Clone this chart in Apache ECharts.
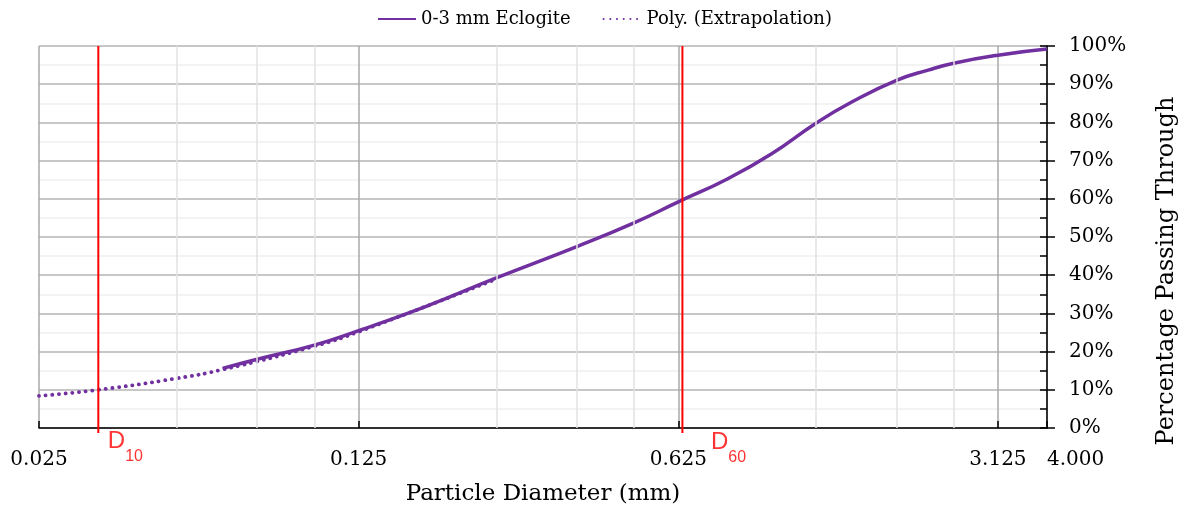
<!DOCTYPE html>
<html>
<head>
<meta charset="utf-8">
<script src="https://cdn.jsdelivr.net/npm/echarts@6/dist/echarts.min.js"></script>
<style>
  html, body { margin: 0; padding: 0; background: #fff; }
  #main { width: 1185px; height: 515px; }
</style>
</head>
<body>
<div id="main"></div>
<script>
// grading curve, sieve size (mm) vs % passing
var sizes = [0.063, 0.075, 0.1, 0.125, 0.175, 0.25, 0.375, 0.5, 0.625, 0.8, 1.0, 1.25, 1.5, 1.875, 2.2, 2.5, 3.125, 4.0];
var passing = [15.6, 18.0, 21.7, 25.5, 31.8, 39.3, 47.5, 53.7, 59.2, 65.2, 71.8, 79.8, 85.4, 91.0, 93.7, 95.5, 97.6, 99.2];

// polynomial trend extended down to 0.025 mm
var polySizes = [0.025, 0.0337, 0.05, 0.063, 0.1, 0.125, 0.25];
var polyPassing = [8.4, 10.0, 13.0, 15.3, 21.4, 25.2, 39.0];

// D10 / D60 markers
var dNames = ['10', '60'];
var dValues = [0.0337, 0.638];

// minor vertical grid lines (2x, 3x, 4x each major step)
var xMinor = [0.05, 0.075, 0.1, 0.25, 0.375, 0.5, 1.25, 1.875, 2.5];
var xMajor = [0.025, 0.125, 0.625, 3.125, 4.0];

var serif = 'DejaVu Serif';
var purple = '#7030A0';

function pairs(xs, y0, y1) {
  return xs.map(function (v) { return [{ coord: [v, y0] }, { coord: [v, y1] }]; });
}

var chart = echarts.init(document.getElementById('main'), null, { renderer: 'canvas' });

var option = {
  backgroundColor: '#fff',
  animation: false,
  legend: {
    data: ['0-3 mm Eclogite', 'Poly. (Extrapolation)'],
    left: 372,
    top: 5,
    itemWidth: 38,
    itemHeight: 14,
    itemGap: 32,
    itemStyle: { opacity: 0 },
    textStyle: { fontFamily: serif, fontSize: 18, color: '#000' }
  },
  grid: { left: 39, right: 138, top: 46, bottom: 87, outerBoundsMode: 'none' },
  xAxis: [{
    type: 'log',
    logBase: 5,
    min: 0.025,
    max: 4,
    interval: 1.000000001,
    name: 'Particle Diameter (mm)',
    nameLocation: 'middle',
    nameGap: 55,
    nameTextStyle: { fontFamily: serif, fontSize: 23, color: '#000' },
    axisLine: { show: true, lineStyle: { color: '#000', width: 1.5 } },
    axisTick: { show: true, inside: true, length: 7, lineStyle: { color: '#000', width: 1.5 } },
    axisLabel: {
      fontFamily: serif, fontSize: 20, color: '#000', margin: 22,
      showMinLabel: true, showMaxLabel: true, alignMaxLabel: 'left',
      formatter: function (v) { return v.toFixed(3); }
    },
    splitLine: { show: true, lineStyle: { color: '#a8a8a8', width: 1.5 } }
  }],
  yAxis: [{
    type: 'value',
    position: 'right',
    min: 0,
    max: 100,
    interval: 10,
    name: 'Percentage Passing Through',
    nameLocation: 'middle',
    nameRotate: 90,
    nameGap: 108,
    nameTextStyle: { fontFamily: serif, fontSize: 24, color: '#000', padding: [0, 68, 0, 0] },
    axisLine: { show: true, lineStyle: { color: '#000', width: 1.5 } },
    axisTick: { show: true, inside: false, length: 8, lineStyle: { color: '#000', width: 1.5 } },
    axisLabel: { fontFamily: serif, fontSize: 20, color: '#000', margin: 22, formatter: '{value}%' },
    splitLine: { show: true, lineStyle: { color: '#b4b4b4', width: 1.5 } },
    minorTick: { show: false, splitNumber: 2 },
    minorSplitLine: { show: true, lineStyle: { color: '#f0f0f0', width: 1.5 } }
  }, {
    type: 'value',
    position: 'right',
    min: 0,
    max: 100,
    interval: 5,
    axisLine: { show: false },
    axisTick: { show: true, inside: true, length: 7, lineStyle: { color: '#000', width: 1.5 } },
    axisLabel: { show: false },
    splitLine: { show: false }
  }],
  series: [{
    name: 'minorGrid',
    type: 'line',
    data: [],
    z: 1,
    markLine: {
      silent: true,
      symbol: ['none', 'none'],
      label: { show: false },
      lineStyle: { color: '#e2e2e2', width: 1.5, type: 'solid' },
      data: pairs(xMinor, 0, 100)
    }
  }, {
    name: 'xTicks',
    type: 'line',
    data: [],
    clip: false,
    z: 2,
    markLine: {
      silent: true,
      symbol: ['none', 'none'],
      label: { show: false },
      lineStyle: { color: '#000', width: 1.5, type: 'solid' },
      data: pairs(xMinor.concat(xMajor), 0, -1.3)
    }
  }, {
    name: 'Poly. (Extrapolation)',
    type: 'line',
    data: polySizes.map(function (s, i) { return [s, polyPassing[i]]; }),
    smooth: true,
    symbol: 'none',
    z: 3,
    lineStyle: { color: purple, width: 3.8, type: [0.1, 6.6], cap: 'round' },
    itemStyle: { color: purple }
  }, {
    name: '0-3 mm Eclogite',
    type: 'line',
    data: sizes.map(function (s, i) { return [s, passing[i]]; }),
    smooth: 0.5,
    symbol: 'none',
    z: 4,
    lineStyle: { color: purple, width: 3.5 },
    itemStyle: { color: purple }
  }, {
    name: 'D10',
    type: 'line',
    data: [[dValues[0], 100], [dValues[0], -1.3]],
    symbol: 'none',
    clip: false,
    z: 5,
    lineStyle: { color: '#ff0000', width: 2 }
  }, {
    name: 'D60',
    type: 'line',
    data: [[dValues[1], 100], [dValues[1], -1.3]],
    symbol: 'none',
    clip: false,
    z: 5,
    lineStyle: { color: '#ff0000', width: 2 }
  }, {
    name: 'dLabels',
    type: 'scatter',
    symbolSize: 1,
    clip: false,
    silent: true,
    z: 6,
    itemStyle: { color: 'rgba(0,0,0,0)' },
    data: [
      { value: [dValues[0], 0], label: { offset: [4, 19] } },
      { value: [dValues[1], 0], label: { offset: [23, 20] } }
    ],
    label: {
      show: true,
      position: 'right',
      formatter: function (p) { return '{d|D}{s|' + dNames[p.dataIndex] + '}'; },
      rich: {
        d: { fontFamily: 'Liberation Sans', fontSize: 24, color: '#ff0000', verticalAlign: 'top' },
        s: { fontFamily: 'Liberation Sans', fontSize: 16, color: '#ff0000', verticalAlign: 'top', padding: [19, 0, 0, 0] }
      }
    }
  }]
};

chart.setOption(option);
</script>
</body>
</html>
